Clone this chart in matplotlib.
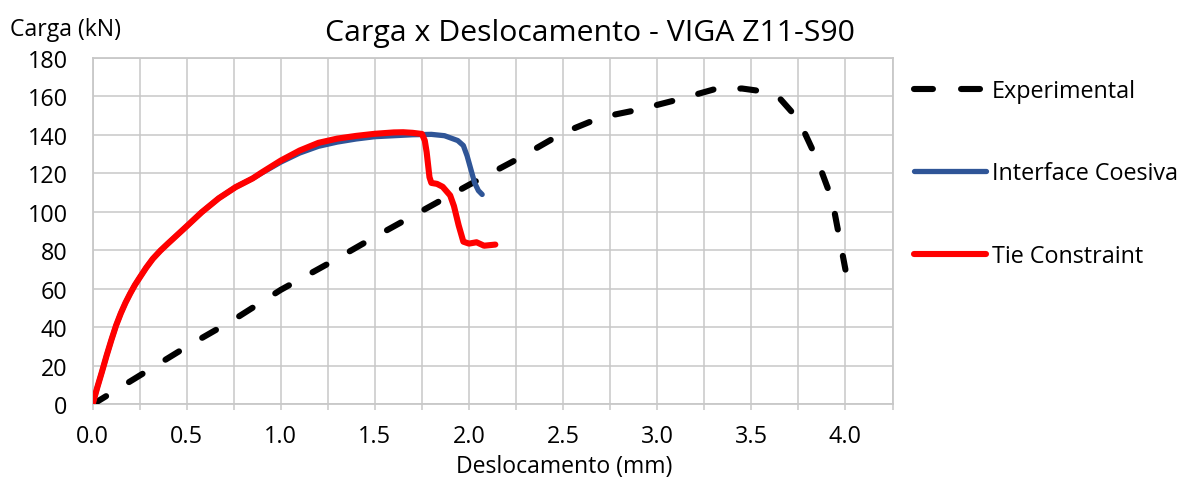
import matplotlib
matplotlib.use("Agg")
import matplotlib.pyplot as plt
from matplotlib.ticker import MultipleLocator, FuncFormatter

plt.rcParams["font.family"] = ["Open Sans", "DejaVu Sans"]

# Load-displacement curves, beam Z11-S90
exp_x = [0.0, 0.25, 0.5, 0.75, 1.0, 1.25, 1.5, 1.75, 2.0, 2.25, 2.5, 2.7,
         2.9, 3.1, 3.3, 3.45, 3.6, 3.65, 3.75, 3.85, 3.93, 4.0]
exp_y = [0, 15, 30, 44, 59.5, 73, 87, 100.5, 114, 127, 141, 149,
         153, 158, 163.5, 164, 162, 159, 148, 127, 106, 70]

coes_x = [0.0, 0.025, 0.05, 0.075, 0.1, 0.125, 0.15, 0.175, 0.2, 0.225, 0.25,
          0.285, 0.32, 0.36, 0.4, 0.45, 0.5, 0.58, 0.67, 0.76,
          0.85, 0.9, 1.0, 1.1, 1.2, 1.3, 1.4, 1.5, 1.6, 1.7, 1.8, 1.87,
          1.94, 1.97, 1.99, 2.01, 2.03, 2.05, 2.07]
coes_y = [0, 8.8, 17, 25.5, 33.5, 41, 47.3, 52.8, 57.6, 62, 65.8,
          71, 75.6, 79.8, 83.5, 88, 92.5, 99.8, 107, 112.8,
          117.3, 120.2, 125.8, 130.5, 134, 136.2, 137.8, 139, 139.5, 140, 140.2, 139.5,
          137, 134.4, 129, 122, 115, 111, 109]

tie_x = [0.0, 0.025, 0.05, 0.075, 0.1, 0.125, 0.15, 0.175, 0.2, 0.225, 0.25,
         0.285, 0.32, 0.36, 0.4, 0.45, 0.5, 0.58, 0.67, 0.76,
         0.85, 0.9, 1.0, 1.1, 1.2, 1.3, 1.4, 1.5, 1.6, 1.65, 1.7, 1.75,
         1.765, 1.775, 1.79, 1.80, 1.83, 1.86, 1.9, 1.92, 1.945, 1.97, 2.0,
         2.04, 2.08, 2.14]
tie_y = [0, 8.8, 17, 25.5, 33.5, 41, 47.3, 52.8, 57.6, 62, 65.8,
         71, 75.6, 79.8, 83.5, 88, 92.5, 99.8, 107, 112.8,
         117.3, 120.5, 126.6, 131.8, 135.8, 138, 139.4, 140.5, 141.2, 141.3, 141, 140.4,
         137, 131, 118, 115, 114.5, 113, 108.5, 103, 93, 84.5, 83.5,
         84.2, 82.4, 83]

x_ticks_every = 0.25
y_ticks_every = 20
x_max = 4.25
y_max = 180

fig = plt.figure(figsize=(11.79, 4.81), dpi=100)
ax = fig.add_axes([0.0785, 0.157, 0.6785, 0.721])

grid_col = "#C8C8C8"

ax.plot(exp_x, exp_y, color="black", lw=4.4, linestyle=(0, (2.6, 4.4)),
        dash_capstyle="round", solid_capstyle="round", label="Experimental", zorder=3)
ax.plot(coes_x, coes_y, color="#2F5597", lw=3.8, solid_capstyle="round",
        solid_joinstyle="round", label="Interface Coesiva", zorder=4)
ax.plot(tie_x, tie_y, color="#FF0000", lw=4.4, solid_capstyle="round",
        solid_joinstyle="round", label="Tie Constraint", zorder=5)

ax.set_xlim(0, x_max)
ax.set_ylim(0, y_max)
ax.xaxis.set_major_locator(MultipleLocator(x_ticks_every))
ax.yaxis.set_major_locator(MultipleLocator(y_ticks_every))
ax.xaxis.set_major_formatter(FuncFormatter(
    lambda v, p: f"{v:.1f}" if abs(v / 0.5 - round(v / 0.5)) < 1e-6 else ""))
ax.yaxis.set_major_formatter(FuncFormatter(lambda v, p: f"{v:.0f}"))

ax.grid(True, color=grid_col, lw=1.1, zorder=0)
ax.set_axisbelow(True)
for s in ax.spines.values():
    s.set_color(grid_col)
    s.set_linewidth(1.3)

ax.tick_params(axis="x", length=4, width=1.1, color=grid_col, labelsize=16.8,
               pad=10, direction="out")
ax.tick_params(axis="y", length=0, labelsize=16.8, pad=18)

fig.text(0.5, 0.931, "Carga x Deslocamento - VIGA Z11-S90", ha="center",
         va="center", fontsize=21.8)
fig.text(10 / 1179, 1 - 30 / 481, "Carga (kN)", ha="left", va="center",
         fontsize=16.6)
fig.text(564 / 1179, 1 - 467 / 481, "Deslocamento (mm)", ha="center",
         va="center", fontsize=16.6)

leg = ax.legend(loc="upper left", bbox_to_anchor=(914 / 1179, 1 - 80 / 481),
                bbox_transform=fig.transFigure, frameon=False, fontsize=16.8,
                handlelength=3.1, handletextpad=0.25, labelspacing=2.5,
                borderpad=0, borderaxespad=0)
leg.get_lines()[0].set_linestyle((0, (3.1, 4.6)))

fig.savefig("out.png", dpi=100)
